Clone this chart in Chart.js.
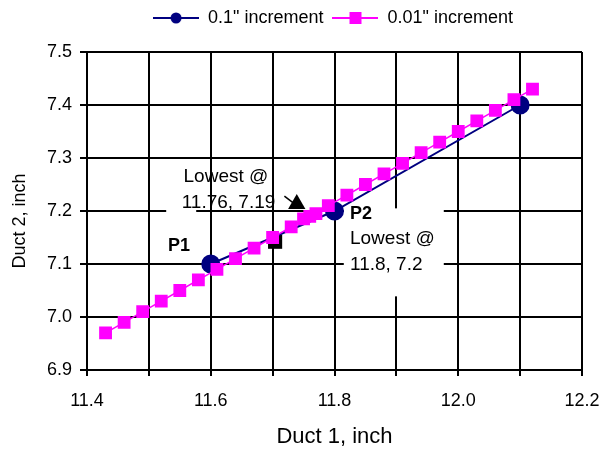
<!DOCTYPE html>
<html>
<head>
<meta charset="utf-8">
<script src="https://cdn.jsdelivr.net/npm/chart.js@4"></script>
<style>
    html, body { margin: 0; padding: 0; background: #fff; }
    #wrap { width: 605px; height: 453px; }
</style>
</head>
<body>
<div id="wrap"><canvas id="chart" width="605" height="453"></canvas></div>
<script>
// Duct sizing search - coarse vs fine increment

const coarseLabel = '0.1" increment';
const coarseX = [11.6, 11.8, 12.1];
const coarseY = [7.1, 7.2, 7.4];

const fineLabel = '0.01" increment';
const fineX = [11.43, 11.46, 11.49, 11.52, 11.55, 11.58, 11.61, 11.64, 11.67, 11.70, 11.73,
               11.75, 11.76, 11.77, 11.79, 11.82, 11.85, 11.88, 11.91, 11.94, 11.97, 12.00,
               12.03, 12.06, 12.09, 12.12];
const fineY = [6.97, 6.99, 7.01, 7.03, 7.05, 7.07, 7.09, 7.11, 7.13, 7.15, 7.17,
               7.185, 7.19, 7.195, 7.21, 7.23, 7.25, 7.27, 7.29, 7.31, 7.33, 7.35,
               7.37, 7.39, 7.41, 7.43];

// pointer marks (arrow head + corner marker)
const arrowHead = [{ x: 11.739, y: 7.213 }];
const cornerMark = [{ x: 11.704, y: 7.142 }];

const xTitle = 'Duct 1, inch';
const yTitle = 'Duct 2, inch';
const xMin = 11.4, xMax = 12.2;
const yMin = 6.9, yMax = 7.5;

const FONT = "'Liberation Sans', Arial, sans-serif";
Chart.defaults.font.family = FONT;
Chart.defaults.color = '#000';

function zip(xs, ys) {
    return xs.map((x, i) => ({ x: x, y: ys[i] }));
}

// little line+marker image for legend entries
function legendIcon(color, style) {
    const c = document.createElement('canvas');
    c.width = 46; c.height = 14;
    const g = c.getContext('2d');
    g.strokeStyle = color;
    g.lineWidth = 2;
    g.beginPath(); g.moveTo(0, 7); g.lineTo(46, 7); g.stroke();
    g.fillStyle = color;
    if (style === 'circle') {
        g.beginPath(); g.arc(23, 7, 5.5, 0, Math.PI * 2); g.fill();
    } else {
        g.fillRect(17, 1, 12, 12);
    }
    return c;
}

// legend sits higher than the plot top and a bit right of centre
const legendPlace = {
    id: 'legendPlace',
    beforeUpdate(chart) {
        const L = chart.legend;
        if (L && !L._patched) {
            const fit = L.fit;
            L.fit = function () { fit.call(this); this.height = 52; };
            L._patched = true;
        }
    },
    afterLayout(chart) {
        chart.legend.left += 42;
        chart.legend.right += 42;
    }
};

const notes = {
    id: 'notes',
    beforeDatasetsDraw(chart) {
        const ctx = chart.ctx;
        const xs = chart.scales.x, ys = chart.scales.y;
        const px = v => xs.getPixelForValue(v);
        const py = v => ys.getPixelForValue(v);
        ctx.save();
        // white boxes behind the P1 / P2 labels
        ctx.fillStyle = '#fff';
        ctx.fillRect(px(11.528), py(7.233), 30, 38);
        ctx.fillRect(px(11.815), py(7.205), 100, 88);

        ctx.fillStyle = '#000';
        ctx.textBaseline = 'middle';
        ctx.textAlign = 'left';
        ctx.font = '19px ' + FONT;
        ctx.fillText('Lowest @', px(11.556), py(7.264));
        ctx.fillText('11.76, 7.19', px(11.553), py(7.216));
        ctx.fillText('Lowest @', px(11.825), py(7.147));
        ctx.fillText('11.8, 7.2', px(11.825), py(7.098));
        ctx.font = 'bold 18px ' + FONT;
        ctx.fillText('P1', px(11.531), py(7.134));
        ctx.fillText('P2', px(11.825), py(7.194));

        // arrow shaft
        ctx.strokeStyle = '#000';
        ctx.lineWidth = 1.5;
        ctx.beginPath();
        ctx.moveTo(px(11.719), py(7.228));
        ctx.lineTo(px(11.736), py(7.213));
        ctx.stroke();
        ctx.restore();
    },
    afterDraw(chart) {
        // y axis title, centred a little below the plot middle like the original
        const ctx = chart.ctx;
        const area = chart.chartArea;
        ctx.save();
        ctx.translate(20, (area.top + area.bottom) / 2 + 10);
        ctx.rotate(-Math.PI / 2);
        ctx.font = '18px ' + FONT;
        ctx.fillStyle = '#000';
        ctx.textAlign = 'center';
        ctx.textBaseline = 'middle';
        ctx.fillText(yTitle, 0, 0);
        ctx.restore();
    }
};

const ctx = document.getElementById('chart').getContext('2d');
new Chart(ctx, {
    type: 'scatter',
    data: {
        datasets: [
            {
                label: coarseLabel,
                data: zip(coarseX, coarseY),
                showLine: true,
                borderColor: '#000080',
                backgroundColor: '#000080',
                borderWidth: 2,
                pointStyle: 'circle',
                pointRadius: 8.5,
                order: 2
            },
            {
                label: fineLabel,
                data: zip(fineX, fineY),
                showLine: true,
                borderColor: '#FF00FF',
                backgroundColor: '#FF00FF',
                borderWidth: 1.5,
                pointStyle: 'rect',
                pointRadius: 8,
                order: 1
            },
            {
                label: 'arrow',
                data: arrowHead,
                pointStyle: 'triangle',
                pointRadius: 10,
                borderWidth: 0,
                backgroundColor: '#000',
                borderColor: '#000',
                order: 3
            },
            {
                label: 'mark',
                data: cornerMark,
                pointStyle: 'rect',
                pointRadius: 10,
                borderWidth: 0,
                backgroundColor: '#000',
                borderColor: '#000',
                order: 4
            }
        ]
    },
    options: {
        responsive: false,
        animation: false,
        events: [],
        layout: { padding: { top: 0, right: 23, left: 0, bottom: 0 } },
        plugins: {
            tooltip: { enabled: false },
            legend: {
                position: 'top',
                labels: {
                    usePointStyle: true,
                    pointStyleWidth: 46,
                    padding: 9,
                    font: { size: 18 },
                    color: '#000',
                    generateLabels(chart) {
                        return chart.data.datasets.slice(0, 2).map((ds, i) => ({
                            text: ds.label,
                            pointStyle: legendIcon(ds.borderColor, i === 0 ? 'circle' : 'rect'),
                            fillStyle: ds.backgroundColor,
                            strokeStyle: ds.borderColor,
                            lineWidth: 0,
                            datasetIndex: i,
                            fontColor: '#000'
                        }));
                    }
                }
            }
        },
        scales: {
            x: {
                type: 'linear',
                min: xMin,
                max: xMax,
                afterFit(scale) {
                    scale.height = 83;
                    scale.paddingRight = 0;
                    scale.paddingLeft = 0;
                },
                ticks: {
                    stepSize: 0.1,
                    padding: 14,
                    font: { size: 18 },
                    color: '#000',
                    maxRotation: 0,
                    autoSkip: false,
                    callback: v => (Math.round(v * 10) % 2 === 0 ? v.toFixed(1) : '')
                },
                grid: { color: '#000', lineWidth: 2, tickLength: 6 },
                border: { color: '#000', width: 2 },
                title: { display: true, text: xTitle, font: { size: 22 }, color: '#000', padding: { top: 4, bottom: 3 } }
            },
            y: {
                type: 'linear',
                min: yMin,
                max: yMax,
                afterFit(scale) { scale.width = 87; },
                ticks: {
                    stepSize: 0.1,
                    padding: 8,
                    font: { size: 18 },
                    color: '#000',
                    callback: v => v.toFixed(1)
                },
                grid: { color: '#000', lineWidth: 2, tickLength: 7 },
                border: { color: '#000', width: 2 },
                title: { display: false }
            }
        }
    },
    plugins: [legendPlace, notes]
});
</script>
</body>
</html>
